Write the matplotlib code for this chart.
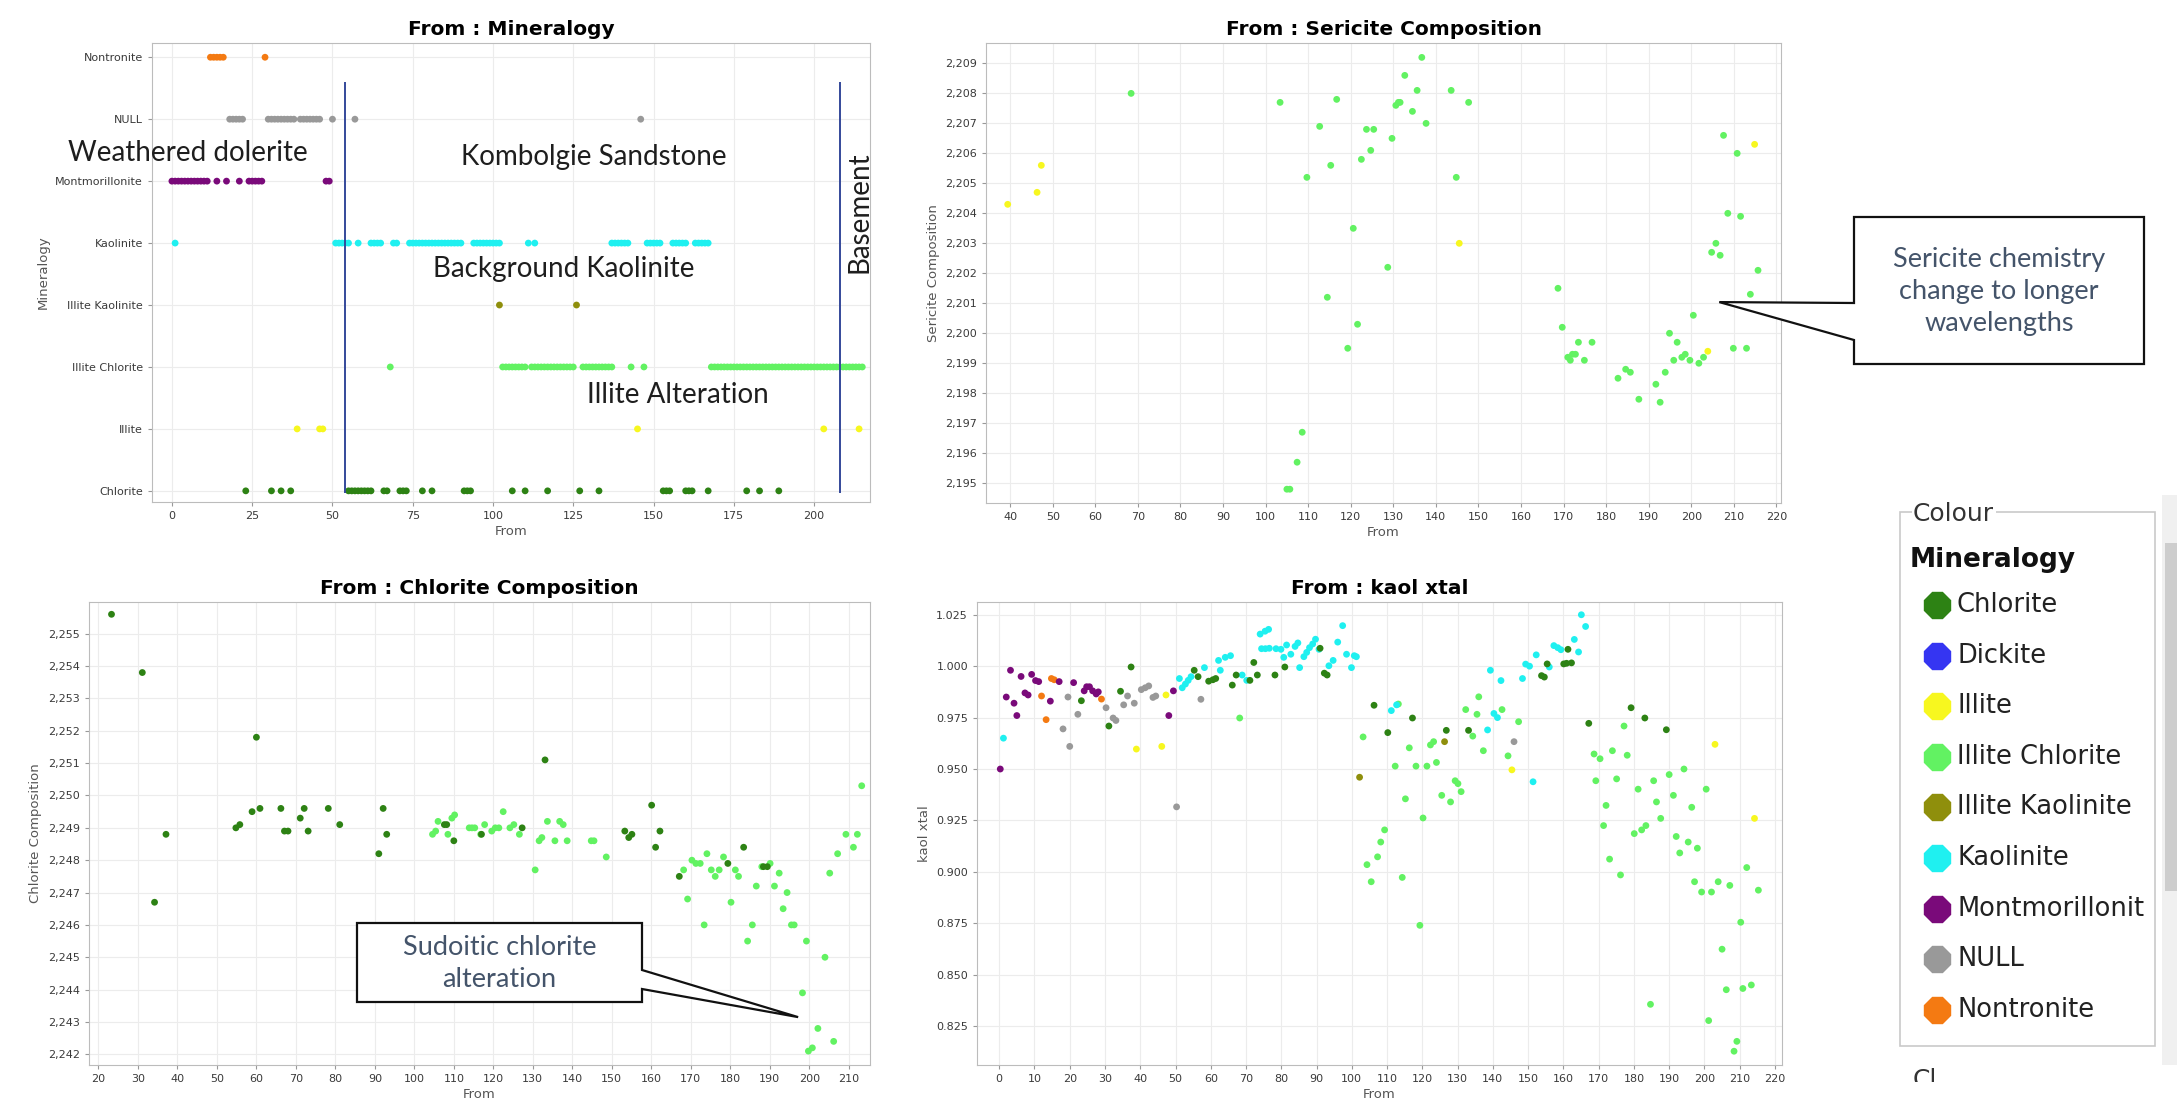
import matplotlib.pyplot as plt
from matplotlib.patches import Polygon, Rectangle
from matplotlib.lines import Line2D
from matplotlib.ticker import FuncFormatter, MultipleLocator
from matplotlib.transforms import Bbox, TransformedBbox

W, H = 2177, 1109

# ---------------- data ----------------
# mineralogy strip (From depth of each sample, per mineral class)
strip_chlorite = [23, 31, 34, 37, 55, 56, 57, 58, 59, 60, 61, 62, 66, 67, 71, 72, 73, 78, 81,
                  91, 92, 93, 106, 110, 117, 127, 133, 153, 154, 155, 160, 161, 162, 167,
                  179, 183, 189]
strip_illite = [39, 46, 47, 145, 203, 214]
strip_illite_chlorite = [68, 103, 104, 105, 106, 107, 108, 109, 110, 112, 113, 114, 115, 116,
                         117, 118, 119, 120, 121, 122, 123, 124, 125, 128, 129, 130, 131, 132,
                         133, 134, 135, 136, 137, 143, 147, 168, 169, 170, 171, 172, 173, 174,
                         175, 176, 177, 178, 179, 180, 181, 182, 183, 184, 185, 186, 187, 188,
                         189, 190, 191, 192, 193, 194, 195, 196, 197, 198, 199, 200, 201, 202,
                         203, 204, 205, 206, 207, 208, 209, 210, 211, 212, 213, 214, 215]
strip_illite_kaolinite = [102, 126]
strip_kaolinite = [1, 51, 52, 53, 54, 55, 58, 62, 63, 64, 65, 69, 70, 74, 75, 76, 77, 78, 79,
                   80, 81, 82, 83, 84, 85, 86, 87, 88, 89, 90, 94, 95, 96, 97, 98, 99, 100,
                   101, 102, 111, 113, 137, 138, 139, 140, 141, 142, 148, 149, 150, 151, 152,
                   156, 157, 158, 159, 160, 163, 164, 165, 166, 167]
strip_montmorillonite = [0, 1, 2, 3, 4, 5, 6, 7, 8, 9, 10, 11, 14, 17, 21, 24, 25, 26, 27, 28,
                         48, 49]
strip_null = [18, 19, 20, 21, 22, 30, 31, 32, 33, 34, 35, 36, 37, 38, 40, 41, 42, 43, 44, 45,
              46, 50, 57, 146]
strip_nontronite = [12, 13, 14, 15, 16, 29]

# sericite composition
ser_illite_x = [39.4, 46.3, 47.3, 145.5, 203.9, 214.9]
ser_illite_y = [2.2043, 2.2047, 2.2056, 2.2030, 2.1994, 2.2063]
ser_ic_x = [68.4, 103.4, 105.0, 105.7, 107.4, 108.6, 109.7, 112.7, 114.5, 115.3,
            116.7, 119.3, 120.6, 121.6, 122.5, 123.7, 124.7, 125.4, 128.7, 129.7,
            130.6, 131.2, 131.6, 132.7, 134.5, 135.6, 136.7, 137.7, 143.6, 144.8,
            147.7, 168.7, 169.7, 171.0, 171.6, 172.1, 172.8, 173.5, 174.9, 176.7,
            182.8, 184.6, 185.7, 187.7, 191.7, 192.7, 193.9, 194.9, 195.9, 196.7,
            197.8, 198.6, 199.7, 200.5, 201.8, 202.9, 204.8, 205.8, 206.8, 207.6,
            208.6, 209.9, 210.8, 211.6, 213.0, 213.9, 215.7]
ser_ic_y = [2.2080, 2.2077, 2.1948, 2.1948, 2.1957, 2.1967, 2.2052, 2.2069, 2.2012, 2.2056,
            2.2078, 2.1995, 2.2035, 2.2003, 2.2058, 2.2068, 2.2061, 2.2068, 2.2022, 2.2065,
            2.2076, 2.2077, 2.2077, 2.2086, 2.2074, 2.2081, 2.2092, 2.2070, 2.2081, 2.2052,
            2.2077, 2.2015, 2.2002, 2.1992, 2.1991, 2.1993, 2.1993, 2.1997, 2.1991, 2.1997,
            2.1985, 2.1988, 2.1987, 2.1978, 2.1983, 2.1977, 2.1987, 2.2000, 2.1991, 2.1997,
            2.1992, 2.1993, 2.1991, 2.2006, 2.1990, 2.1992, 2.2027, 2.2030, 2.2026, 2.2066,
            2.2040, 2.1995, 2.2060, 2.2039, 2.1995, 2.2013, 2.2021]

# chlorite composition
chl_chl_x = [23.3, 31.1, 34.2, 37.1, 54.8, 55.8, 58.9, 60.0, 60.9, 66.2,
             67.1, 68.0, 71.1, 72.1, 73.1, 78.2, 81.1, 91.0, 92.1, 93.0,
             107.6, 108.2, 110.0, 117.0, 127.3, 133.1, 153.3, 154.3, 155.1, 160.1,
             161.1, 162.2, 167.1, 179.4, 183.4, 188.4, 189.4]
chl_chl_y = [2.2556, 2.2538, 2.2467, 2.2488, 2.2490, 2.2491, 2.2495, 2.2518, 2.2496, 2.2496,
             2.2489, 2.2489, 2.2493, 2.2496, 2.2489, 2.2496, 2.2491, 2.2482, 2.2496, 2.2488,
             2.2491, 2.2491, 2.2486, 2.2488, 2.2490, 2.2511, 2.2489, 2.2487, 2.2488, 2.2497,
             2.2484, 2.2489, 2.2475, 2.2479, 2.2484, 2.2478, 2.2478]
chl_ic_x = [104.6, 105.4, 106.0, 108.5, 109.5, 110.2, 113.9, 114.6, 115.3, 116.8,
            117.8, 119.6, 120.5, 121.4, 122.5, 124.2, 125.2, 126.6, 130.6, 131.6,
            132.3, 133.7, 135.6, 136.8, 137.7, 138.7, 144.8, 145.5, 148.6, 168.2,
            169.2, 170.3, 171.3, 172.4, 173.4, 174.1, 175.2, 176.2, 177.2, 178.3,
            180.2, 181.3, 182.1, 184.4, 185.6, 186.6, 188.0, 190.1, 191.2, 192.4,
            193.4, 194.4, 195.5, 196.2, 198.3, 199.3, 199.8, 200.8, 202.2, 204.0,
            205.2, 206.2, 207.2, 209.3, 211.2, 212.2, 213.3]
chl_ic_y = [2.2488, 2.2489, 2.2492, 2.2488, 2.2493, 2.2494, 2.2490, 2.2490, 2.2490, 2.2488,
            2.2491, 2.2489, 2.2490, 2.2490, 2.2495, 2.2490, 2.2491, 2.2488, 2.2477, 2.2486,
            2.2487, 2.2492, 2.2486, 2.2492, 2.2491, 2.2486, 2.2486, 2.2486, 2.2481, 2.2477,
            2.2468, 2.2480, 2.2479, 2.2479, 2.2460, 2.2482, 2.2477, 2.2475, 2.2477, 2.2481,
            2.2467, 2.2477, 2.2475, 2.2455, 2.2460, 2.2472, 2.2478, 2.2479, 2.2472, 2.2476,
            2.2465, 2.2470, 2.2460, 2.2460, 2.2439, 2.2455, 2.2421, 2.2422, 2.2428, 2.2450,
            2.2476, 2.2424, 2.2482, 2.2488, 2.2484, 2.2488, 2.2503]

# kaolinite crystallinity
kx_mont_x = [0.3, 2.0, 3.2, 4.2, 5.0, 6.2, 7.3, 8.2, 9.2, 10.3, 11.2, 14.5, 17.0, 21.1,
             24.1, 24.8, 25.6, 26.5, 27.5, 28.1, 48.1, 49.4]
kx_mont_y = [0.950, 0.985, 0.998, 0.982, 0.976, 0.995, 0.987, 0.986, 0.996, 0.993, 0.9925,
             0.983, 0.9925, 0.992, 0.988, 0.990, 0.990, 0.988, 0.9865, 0.9875, 0.976, 0.988]
kx_nont_x = [12.0, 13.3, 14.8, 15.6, 29.0]
kx_nont_y = [0.9855, 0.974, 0.994, 0.9934, 0.984]
kx_null_x = [18.1, 19.5, 20.0, 22.3, 30.3, 32.3, 33.1, 35.3, 36.4, 38.3, 40.3, 41.4, 42.4,
             43.6, 44.4, 50.3, 57.2, 146.0]
kx_null_y = [0.9695, 0.985, 0.961, 0.9766, 0.9798, 0.9748, 0.9736, 0.9812, 0.9855, 0.982,
             0.9886, 0.9895, 0.9904, 0.9848, 0.9855, 0.9316, 0.9839, 0.9633]
kx_chl_x = [23.3, 31.1, 34.4, 37.4, 55.3, 56.4, 59.4, 60.6, 61.4, 66.1,
            67.2, 71.1, 72.2, 73.2, 78.2, 81.0, 91.0, 92.2, 93.0, 106.3,
            110.2, 117.2, 126.8, 133.1, 153.8, 154.6, 155.4, 160.1, 160.9, 161.3,
            162.3, 167.2, 179.2, 183.1, 189.2]
kx_chl_y = [0.9832, 0.9709, 0.9878, 0.9996, 0.998, 0.9949, 0.9927, 0.9934, 0.994, 0.9908,
            0.9957, 0.9931, 1.0018, 0.9957, 0.9957, 0.9996, 1.0087, 0.9966, 0.9957, 0.981,
            0.9677, 0.9748, 0.9688, 0.9688, 0.9954, 0.9947, 1.0011, 1.0011, 1.0014, 1.0082,
            1.0016, 0.9722, 0.9798, 0.9748, 0.9691]
kx_ik_x = [102.2, 126.3]
kx_ik_y = [0.946, 0.9633]
kx_kaol_x = [1.2, 51.1, 51.9, 52.8, 53.6, 54.4, 58.2, 62.2, 62.7, 64.1,
             65.6, 68.9, 70.2, 74.0, 74.4, 75.4, 75.5, 76.4, 76.6, 78.5,
             79.9, 80.7, 81.5, 82.7, 83.9, 84.7, 85.2, 86.4, 87.2, 88.0,
             88.9, 89.7, 90.7, 93.5, 94.7, 96.0, 97.4, 98.5, 99.9, 100.7,
             101.3, 111.2, 112.7, 138.5, 139.3, 140.3, 141.3, 142.3, 148.4, 149.3,
             150.4, 151.4, 152.3, 156.0, 157.3, 158.4, 159.3, 163.1, 164.3, 165.1,
             166.3]
kx_kaol_y = [0.965, 0.994, 0.9895, 0.9913, 0.9931, 0.9949, 0.9993, 1.0028, 0.998, 1.0043,
             1.0051, 0.9957, 0.9931, 1.0156, 1.0085, 1.017, 1.0085, 1.0179, 1.0087, 1.0085,
             1.0082, 1.0043, 1.0103, 1.0058, 1.0096, 1.0113, 0.9993, 1.0046, 1.0067, 1.009,
             1.0108, 1.0131, 1.0082, 1.0002, 1.0028, 1.0117, 1.0197, 1.0058, 0.9993, 1.0051,
             1.0046, 0.9784, 0.9812, 0.969, 0.998, 0.977, 0.975, 0.993, 0.994, 1.001,
             1.000, 0.9438, 1.0055, 0.9996, 1.010, 1.009, 1.008, 1.013, 1.0069, 1.025,
             1.0193]
kx_illite_x = [38.9, 46.1, 47.3, 145.4, 203.0, 214.2]
kx_illite_y = [0.9597, 0.961, 0.986, 0.9496, 0.962, 0.926]
kx_ic_x = [68.2, 103.2, 104.3, 105.5, 107.3, 108.2, 109.3, 112.3, 113.2, 114.3,
           115.2, 116.3, 118.2, 119.3, 120.2, 121.3, 122.3, 123.2, 124.0, 125.5,
           128.0, 129.3, 130.1, 131.0, 132.3, 134.3, 135.5, 136.0, 137.3, 142.6,
           144.3, 147.3, 168.7, 169.2, 170.4, 171.4, 172.1, 173.1, 173.9, 175.1,
           176.2, 177.2, 178.1, 180.1, 181.2, 182.2, 183.4, 184.7, 185.6, 186.4,
           187.6, 190.0, 191.2, 192.0, 193.0, 194.2, 195.4, 196.4, 197.2, 198.0,
           199.2, 200.5, 201.2, 202.0, 203.9, 205.0, 206.2, 207.2, 208.4, 209.2,
           210.3, 210.9, 212.0, 213.3, 215.3]
kx_ic_y = [0.9748, 0.9656, 0.9035, 0.8952, 0.9073, 0.9145, 0.9204, 0.9514, 0.9816, 0.8973,
           0.9355, 0.9603, 0.9514, 0.874, 0.9262, 0.9514, 0.9617, 0.9633, 0.9532, 0.9372,
           0.934, 0.9443, 0.9429, 0.939, 0.9789, 0.966, 0.9766, 0.9851, 0.9589, 0.9789,
           0.9564, 0.973, 0.9573, 0.9443, 0.955, 0.9225, 0.9323, 0.9062, 0.9589, 0.9452,
           0.8985, 0.9709, 0.9567, 0.9186, 0.9402, 0.9204, 0.9225, 0.8356, 0.9443, 0.934,
           0.926, 0.9473, 0.9372, 0.9172, 0.9092, 0.95, 0.9145, 0.9314, 0.8952, 0.9115,
           0.8902, 0.9402, 0.8277, 0.8902, 0.8952, 0.8624, 0.8427, 0.8934, 0.8128, 0.8176,
           0.8755, 0.8433, 0.9021, 0.845, 0.8911]

# unit boundaries (From) drawn on the mineralogy strip
boundaries = [54, 208]

legend_names = ["Chlorite", "Dickite", "Illite", "Illite Chlorite", "Illite Kaolinite",
                "Kaolinite", "Montmorillonit", "NULL", "Nontronite"]
colours = ["#2d8214", "#3535f2", "#f7f71f", "#62f262", "#8f8f0c",
           "#1ff0f0", "#7a0a7a", "#999999", "#f47a12"]
col = dict(zip(legend_names, colours))

# ---------------- figure ----------------
fig = plt.figure(figsize=(W / 100, H / 100), dpi=100)


def box(l, t, r, b):
    return [l / W, 1 - b / H, (r - l) / W, (b - t) / H]


def fxy(x, y):
    return x / W, 1 - y / H


comma = FuncFormatter(lambda v, p: f"{v:.3f}".replace(".", ","))


def style(ax, xlim, ylim, xstep, title, ylabel):
    ax.set_xlim(*xlim)
    ax.set_ylim(*ylim)
    ax.xaxis.set_major_locator(MultipleLocator(xstep))
    ax.grid(True, color="#ececec", lw=0.8)
    ax.set_axisbelow(True)
    for s in ax.spines.values():
        s.set_color("#bcbcbc")
    ax.tick_params(labelsize=8, color="#999999", length=3, labelcolor="#3a3a3a")
    ax.set_title(title, fontsize=14.5, fontweight="bold", pad=6)
    ax.set_xlabel("From", fontsize=9.5, color="#555555", labelpad=3)
    ax.set_ylabel(ylabel, fontsize=9.5, color="#555555")


def dots(ax, x, y, name, s=24):
    ax.scatter(x, y, s=s, color=col[name], edgecolors="none", zorder=3)


# ---- Mineralogy strip ----
ax1 = fig.add_axes(box(152, 43, 870, 502))
strip_cats = ["Chlorite", "Illite", "Illite Chlorite", "Illite Kaolinite", "Kaolinite",
              "Montmorillonite", "NULL", "Nontronite"]
strip_data = [strip_chlorite, strip_illite, strip_illite_chlorite, strip_illite_kaolinite,
              strip_kaolinite, strip_montmorillonite, strip_null, strip_nontronite]
for i, (cat, xs) in enumerate(zip(strip_cats, strip_data)):
    key = "Montmorillonit" if cat == "Montmorillonite" else cat
    dots(ax1, xs, [i] * len(xs), key)
style(ax1, (-6.2, 217.4), (-0.18, 7.23), 25, "From : Mineralogy", "Mineralogy")
ax1.set_yticks(range(len(strip_cats)))
ax1.set_yticklabels(strip_cats)
ax1.vlines(boundaries, -0.03, 6.6, color="#34499a", lw=1.4, zorder=4)

ann = dict(family="Lato", fontsize=20, color="#1e1e1e", va="center")
fig.text(*fxy(68, 153), "Weathered dolerite", ha="left", **ann)
fig.text(*fxy(594, 157), "Kombolgie Sandstone", ha="center", **ann)
fig.text(*fxy(564, 269), "Background Kaolinite", ha="center", **ann)
fig.text(*fxy(678, 395), "Illite Alteration", ha="center", **ann)
fig.text(*fxy(859, 212), "Basement", ha="center", rotation=90, **ann)

# ---- Sericite composition ----
ax2 = fig.add_axes(box(986, 43, 1781, 503))
dots(ax2, ser_ic_x, ser_ic_y, "Illite Chlorite")
dots(ax2, ser_illite_x, ser_illite_y, "Illite")
style(ax2, (34.3, 221.1), (2.19434, 2.20968), 10, "From : Sericite Composition",
      "Sericite Composition")
ax2.yaxis.set_major_locator(MultipleLocator(0.001))
ax2.yaxis.set_major_formatter(comma)

# ---- Chlorite composition ----
ax3 = fig.add_axes(box(89, 602, 870, 1065))
dots(ax3, chl_ic_x, chl_ic_y, "Illite Chlorite")
dots(ax3, chl_chl_x, chl_chl_y, "Chlorite")
style(ax3, (17.6, 215.4), (2.24167, 2.25598), 10, "From : Chlorite Composition",
      "Chlorite Composition")
ax3.yaxis.set_major_locator(MultipleLocator(0.001))
ax3.yaxis.set_major_formatter(comma)

# ---- kaol xtal ----
ax4 = fig.add_axes(box(977, 602, 1782, 1065))
dots(ax4, kx_ic_x, kx_ic_y, "Illite Chlorite")
dots(ax4, kx_kaol_x, kx_kaol_y, "Kaolinite")
dots(ax4, kx_null_x, kx_null_y, "NULL")
dots(ax4, kx_nont_x, kx_nont_y, "Nontronite")
dots(ax4, kx_mont_x, kx_mont_y, "Montmorillonit")
dots(ax4, kx_illite_x, kx_illite_y, "Illite")
dots(ax4, kx_ik_x, kx_ik_y, "Illite Kaolinite")
dots(ax4, kx_chl_x, kx_chl_y, "Chlorite")
style(ax4, (-6.3, 222), (0.8061, 1.0312), 10, "From : kaol xtal", "kaol xtal")
ax4.yaxis.set_major_locator(MultipleLocator(0.025))
ax4.yaxis.set_major_formatter(FuncFormatter(lambda v, p: f"{v:.3f}"))


# ---- callouts ----
def callout(ax, tip, rect, attach, side, text):
    tx, ty = ax.transData.transform(tip)
    tip_f = (tx / W, ty / H)
    l, t, r, b = rect
    a1, a2 = attach
    if side == "left":
        pts = [fxy(l, t), fxy(r, t), fxy(r, b), fxy(l, b), fxy(l, a2), tip_f, fxy(l, a1)]
    else:
        pts = [fxy(l, t), fxy(r, t), fxy(r, a1), tip_f, fxy(r, a2), fxy(r, b), fxy(l, b)]
    fig.add_artist(Polygon(pts, closed=True, transform=fig.transFigure, facecolor="white",
                           edgecolor="#111111", lw=1.6, zorder=10))
    fig.text(*fxy((l + r) / 2, (t + b) / 2 + 1), text, ha="center", va="center",
             family="Lato", fontsize=19.5, color="#44546a", linespacing=1.35, zorder=11)


callout(ax2, (206.6, 2.20104), (1854, 217, 2144, 364), (303, 340), "left",
        "Sericite chemistry\nchange to longer\nwavelengths")
callout(ax3, (197.2, 2.24315), (357, 923, 642, 1002), (970, 989), "right",
        "Sudoitic chlorite\nalteration")

# ---- colour legend panel ----
fig.add_artist(Rectangle(fxy(1900, 1046), 255 / W, (1046 - 512) / H,
                         transform=fig.transFigure, facecolor="white",
                         edgecolor="#c9c9c9", lw=1.2))
fig.text(*fxy(1913, 514), "Colour", fontsize=18, color="#333333", va="center",
         bbox=dict(facecolor="white", edgecolor="none", pad=1))
fig.text(*fxy(1910, 560), "Mineralogy", fontsize=19, fontweight="bold", color="#111111",
         va="center")
for i, (name, c) in enumerate(zip(legend_names, colours)):
    y = 605 + i * 50.6
    fig.add_artist(Line2D([1937 / W], [1 - y / H], transform=fig.transFigure, marker="8",
                          ms=20, color=c, markeredgecolor=c, ls="none"))
    fig.text(*fxy(1957, y), name, fontsize=18.5, color="#222222", va="center")

cut = fig.text(*fxy(1913, 1068), "Cl", fontsize=18, color="#333333", va="top")
cut.set_clip_box(TransformedBbox(Bbox.from_extents(0, 1 - 1082 / H, 1, 1), fig.transFigure))
cut.set_clip_on(True)

# scrollbar strip at the right edge
fig.add_artist(Rectangle(fxy(2162, 1065), 15 / W, (1065 - 495) / H,
                         transform=fig.transFigure, facecolor="#f0f0f0", edgecolor="none"))
fig.add_artist(Rectangle(fxy(2165, 891), 12 / W, (891 - 543) / H,
                         transform=fig.transFigure, facecolor="#cdcdcd", edgecolor="none"))

fig.savefig("out.png", dpi=100, facecolor="white")
